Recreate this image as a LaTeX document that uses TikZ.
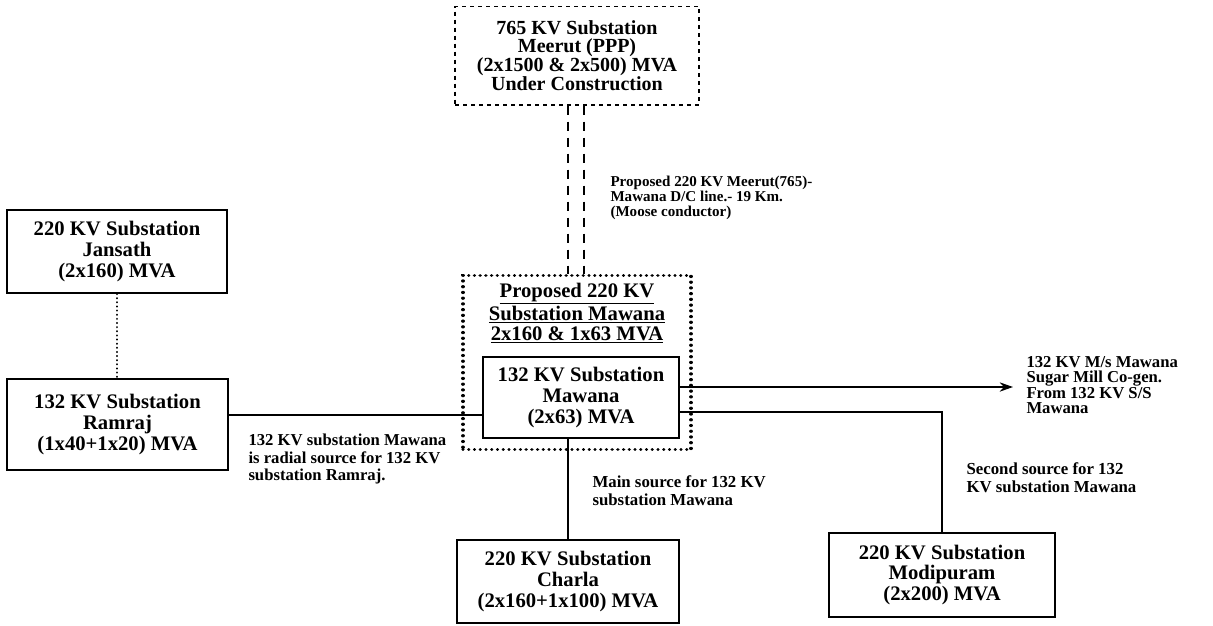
\documentclass[tikz,border=0pt]{standalone}
\usepackage{fontspec}
\setmainfont{Liberation Serif}
\usetikzlibrary{arrows.meta}

\tikzset{every picture/.style={line width=0.75pt}}
\tikzset{
  subbox/.style={draw, line width=1.5pt, align=center, inner sep=0pt, font=\bfseries\fontsize{15.5}{15.5}\selectfont},
  note/.style={anchor=west, align=left, inner sep=0pt, font=\bfseries\fontsize{12.6}{13.5}\selectfont},
  wire/.style={line width=1.2pt},
  dotline/.style={line width=2.4pt, dash pattern=on 0.1pt off 4.2pt, line cap=round},
  dline/.style={line width=2.2pt, dash pattern=on 7pt off 5pt},
}

\begin{document}
\begin{tikzpicture}[x=0.75pt,y=0.75pt,yscale=-1,xscale=1]
\useasboundingbox (0,0) rectangle (1213,625);

% Text Node
\node[subbox, dashed, line width=1pt, minimum width=183pt, minimum height=74pt, font=\bfseries\fontsize{15}{14}\selectfont] (meerut) at (577,55.5) {765 KV Substation\\Meerut (PPP)\\(2x1500 \& 2x500) MVA\\Under Construction};
% Text Node
\node[draw, dotline, minimum width=171pt, minimum height=131pt] (prop) at (577,362.5) {};
\node[align=center, inner sep=0pt, font=\bfseries\fontsize{15.5}{15}\selectfont] (proptitle) at (577,313) {\underline{Proposed 220 KV}\\\underline{Substation Mawana}\\\underline{2x160 \& 1x63 MVA}};
% Text Node
\node[subbox, minimum width=147pt, minimum height=60.75pt] (mawana) at (581,397.5) {132 KV Substation\\Mawana\\(2x63) MVA};
% Text Node
\node[subbox, minimum width=165pt, minimum height=62.25pt] (jansath) at (117,251.5) {220 KV Substation\\Jansath\\(2x160) MVA};
% Text Node
\node[subbox, minimum width=165.75pt, minimum height=68.25pt] (ramraj) at (117.5,424.5) {132 KV Substation\\Ramraj\\(1x40+1x20) MVA};
% Text Node
\node[subbox, minimum width=166.5pt, minimum height=62.25pt] (charla) at (568,581.5) {220 KV Substation\\Charla\\(2x160+1x100) MVA};
% Text Node
\node[subbox, minimum width=169.5pt, minimum height=63pt] (modi) at (942,575) {220 KV Substation\\Modipuram\\(2x200) MVA};

%Straight Lines
\coordinate (ml) at ([xshift=-6.75pt]meerut.south);
\coordinate (mr) at ([xshift=5.25pt]meerut.south);
\draw[dline] (ml) -- (ml |- prop.north);
\draw[dline] (mr) -- (mr |- prop.north);

%Straight Lines
\draw[dotline, line width=1.6pt, dash pattern=on 0.1pt off 3pt] (jansath.south) -- (jansath.south |- ramraj.north);

%Straight Lines
\coordinate (rmj) at ([yshift=-7.1pt]ramraj.east);
\draw[wire] (rmj) -- (rmj -| mawana.west);

%Straight Lines
\coordinate (mill) at (1013,387);
\draw[wire, -{Stealth[length=10pt,width=7pt]}] (mawana.east |- mill) -- (mill);

%Straight Lines
\coordinate (mdp) at ([yshift=10.9pt]mawana.east);
\draw[wire] (mdp) -| (modi.north);

%Straight Lines
\draw[wire] (charla.north) -- (charla.north |- mawana.south);

% Text Node
\node[note, font=\bfseries\fontsize{11.3}{11.25}\selectfont] (linelbl) at (610,198) {Proposed 220 KV Meerut(765)-\\Mawana D/C line.- 19 Km.\\(Moose conductor)};
% Text Node
\node[note, font=\bfseries\fontsize{12.5}{13}\selectfont] (radiallbl) at (248,459) {132 KV substation Mawana\\is radial source for 132 KV\\substation Ramraj.};
% Text Node
\node[note] (mainlbl) at (592,491) {Main source for 132 KV\\substation Mawana};
% Text Node
\node[note] (secondlbl) at (966,478) {Second source for 132\\KV substation Mawana};
% Text Node
\node[note, font=\bfseries\fontsize{12.5}{11.5}\selectfont] (milllbl) at (1026,385) {132 KV M/s Mawana\\Sugar Mill Co-gen.\\From 132 KV S/S\\Mawana};

\end{tikzpicture}
\end{document}
